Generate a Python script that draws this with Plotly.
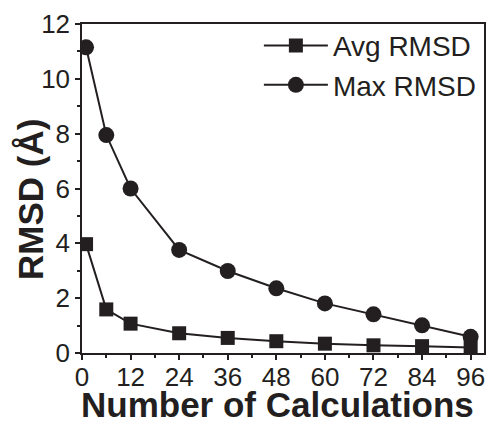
import plotly.graph_objects as go

calcs = [1, 6, 12, 24, 36, 48, 60, 72, 84, 96]
avg_rmsd = [3.97, 1.59, 1.07, 0.72, 0.55, 0.43, 0.34, 0.28, 0.25, 0.2]
max_rmsd = [11.15, 7.95, 6.0, 3.76, 2.99, 2.36, 1.81, 1.41, 1.01, 0.59]
x_ticks = [0, 12, 24, 36, 48, 60, 72, 84, 96]
y_ticks = [0, 2, 4, 6, 8, 10, 12]
x_title = "Number of Calculations"
y_title = "RMSD (Å)"

ink = "#231f20"
font = "Liberation Sans, Arial, sans-serif"

fig = go.Figure()
fig.add_trace(go.Scatter(x=calcs, y=avg_rmsd, name="Avg RMSD", mode="lines+markers",
                         line=dict(color=ink, width=2),
                         marker=dict(symbol="square", size=14, color=ink)))
fig.add_trace(go.Scatter(x=calcs, y=max_rmsd, name="Max RMSD", mode="lines+markers",
                         line=dict(color=ink, width=2),
                         marker=dict(symbol="circle", size=16, color=ink)))

axis_common = dict(showline=True, linecolor=ink, linewidth=1.5, mirror=True,
                   ticks="outside", ticklen=5, tickwidth=1.5, tickcolor=ink,
                   showgrid=False, zeroline=False,
                   tickfont=dict(family=font, size=26, color=ink))

fig.update_xaxes(range=[0, 99.3], tickvals=x_ticks, ticklabelstandoff=-5,
                 minor=dict(dtick=6, tick0=0, ticks="outside", ticklen=3, tickcolor=ink, tickwidth=1.5),
                 **axis_common)
fig.update_yaxes(range=[0, 12], tickvals=y_ticks,
                 minor=dict(dtick=1, tick0=0, ticks="outside", ticklen=3, tickcolor=ink, tickwidth=1.5),
                 **axis_common)

fig.add_annotation(text="<b>" + x_title + "</b>", xref="paper", yref="paper",
                   x=0.5, y=-0.158, xanchor="center", yanchor="middle", xshift=-6,
                   showarrow=False, font=dict(family=font, size=35, color=ink))
fig.add_annotation(text="<b>" + y_title + "</b>", xref="paper", yref="paper",
                   x=0, y=0.465, xanchor="center", yanchor="middle", xshift=-52,
                   textangle=-90, showarrow=False, font=dict(family=font, size=35, color=ink))

fig.update_layout(autosize=True,
                  margin=dict(l=82, r=3, t=24, b=71, autoexpand=False),
                  paper_bgcolor="white", plot_bgcolor="white",
                  legend=dict(x=0.44, y=1.01, xanchor="left", yanchor="top",
                              bgcolor="rgba(0,0,0,0)", itemwidth=64,
                              font=dict(family=font, size=28, color=ink),
                              tracegroupgap=0),
                  showlegend=True)

fig.write_html("out.html", config={"displayModeBar": False, "responsive": True},
               default_width="100vw", default_height="100vh",
               post_script="document.body.style.margin='0';document.body.style.overflow='hidden';")
